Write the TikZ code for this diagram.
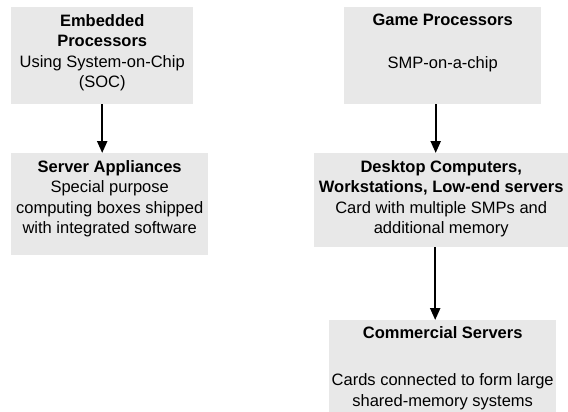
\documentclass[tikz,border=0pt]{standalone}
\usepackage{fontspec}
\setmainfont{Liberation Sans}
\usetikzlibrary{arrows.meta}
\definecolor{boxgray}{RGB}{232,232,232}
\newcommand{\blocktext}[3]{\begin{minipage}[c][#2][t]{#1}\centering\vspace*{7pt}#3\end{minipage}}
\tikzset{
  block/.style={fill=boxgray, inner sep=0pt, anchor=north west, font=\fontsize{16.5}{20.5}\selectfont},
  flow/.style={line width=2.2pt, -{Triangle[width=10pt,length=12pt]}}
}
\begin{document}
\begin{tikzpicture}[x=1pt,y=-1pt]
\useasboundingbox (0,0) rectangle (568,412);
\node[block] (embedded) at (11,7) {\blocktext{182pt}{97pt}{\textbf{Embedded\\Processors}\\Using System-on-Chip\\(SOC)}};
\node[block] (appliance) at (11,153) {\blocktext{197pt}{102pt}{\textbf{Server Appliances}\\Special purpose\\computing boxes shipped\\with integrated software}};
\node[block] (game) at (344,7) {\blocktext{197pt}{97pt}{\textbf{Game Processors}\\[22.5pt]SMP-on-a-chip}};
\node[block] (desktop) at (314,153) {\blocktext{254pt}{94pt}{\textbf{Desktop Computers,\\Workstations, Low-end servers}\\Card with multiple SMPs and\\additional memory}};
\node[block] (commercial) at (329,320) {\blocktext{227pt}{92pt}{\vspace*{-1pt}\textbf{Commercial Servers}\\[27pt]Cards connected to form large\\shared-memory systems}};

\draw[flow] (embedded.south) -- (embedded.south |- appliance.north);
\draw[flow] ([xshift=-7pt]game.south) -- ([xshift=-7pt]game.south |- desktop.north);
\draw[flow] ([xshift=-6pt]desktop.south) -- ([xshift=-6pt]desktop.south |- commercial.north);
\end{tikzpicture}
\end{document}
